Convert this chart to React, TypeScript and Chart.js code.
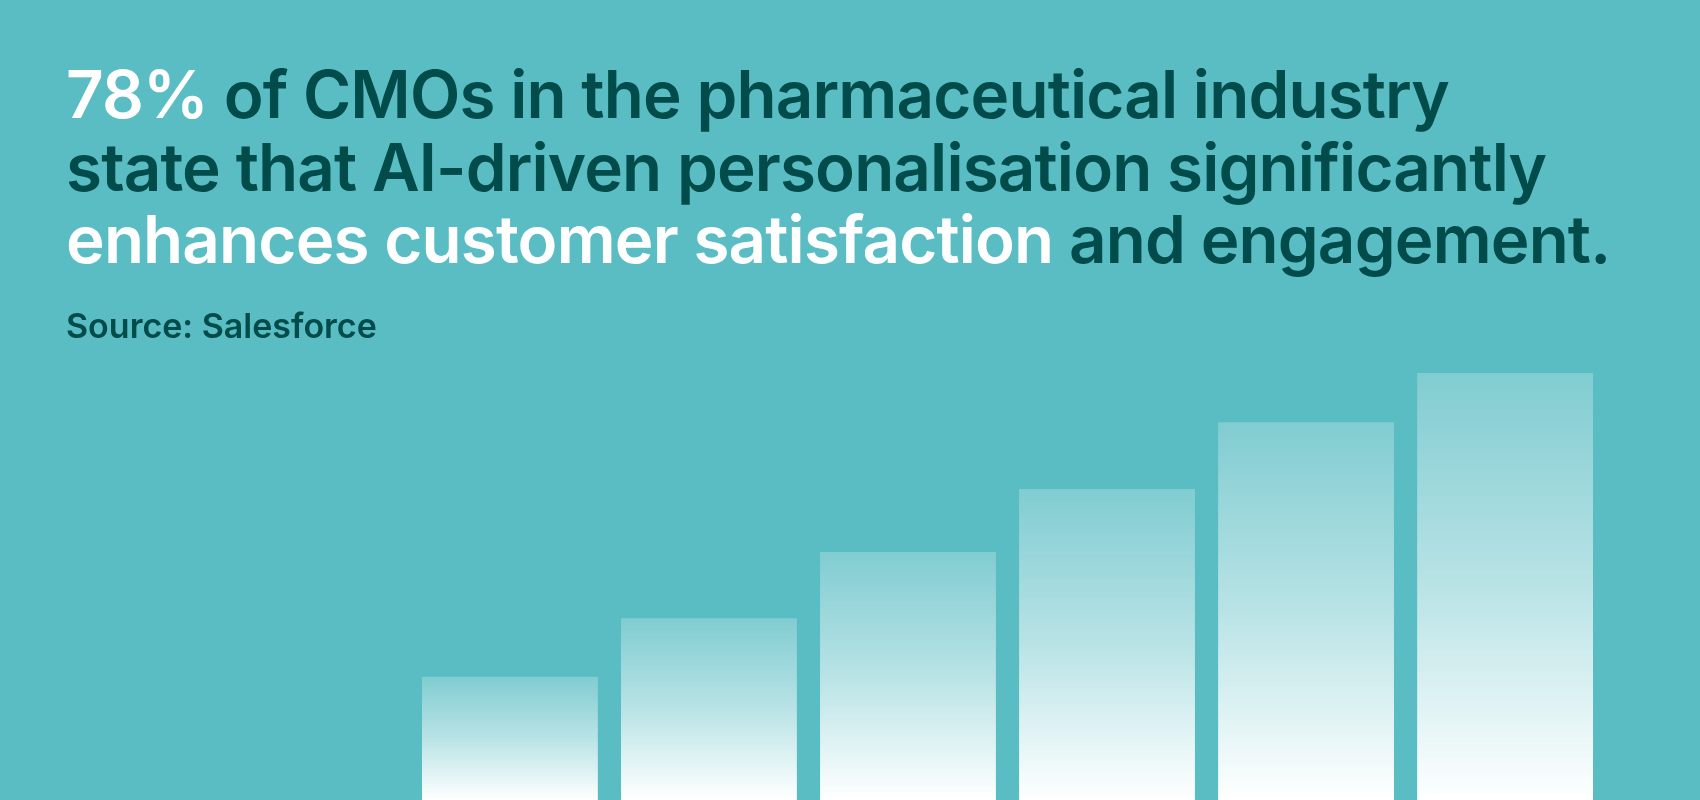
import { useEffect, useRef } from 'react'
import { Chart, registerables } from 'chart.js'

Chart.register(...registerables)

const categories = ['1', '2', '3', '4', '5', '6']
const values = [22.5, 33.2, 45.3, 56.8, 69.0, 78.0]

const BG = '#59bdc3'
const DARK = '#014b4a'

export default function App() {
  const chartRef = useRef<HTMLCanvasElement>(null)
  const chartInstance = useRef<Chart | null>(null)

  useEffect(() => {
    document.body.style.margin = '0'
    if (!chartRef.current) return
    if (chartInstance.current) chartInstance.current.destroy()

    const ctx = chartRef.current.getContext('2d')
    if (!ctx) return

    chartInstance.current = new Chart(ctx, {
      type: 'bar',
      data: {
        labels: categories,
        datasets: [
          {
            data: values,
            // gradiente por barra: branco translúcido no topo, branco na base
            backgroundColor: (c: any) => {
              const chart = c.chart
              if (!chart.chartArea || c.raw == null) return 'rgba(255,255,255,0.5)'
              const y = chart.scales.y
              const top = y.getPixelForValue(c.raw)
              const bottom = y.getPixelForValue(0)
              const g = chart.ctx.createLinearGradient(0, top, 0, bottom)
              g.addColorStop(0, 'rgba(255,255,255,0.24)')
              g.addColorStop(0.5, 'rgba(255,255,255,0.58)')
              g.addColorStop(1, 'rgba(255,255,255,1)')
              return g
            },
            borderWidth: 0,
            barPercentage: 0.8835,
            categoryPercentage: 1
          }
        ]
      },
      options: {
        animation: false,
        responsive: true,
        maintainAspectRatio: false,
        layout: {
          padding: { left: 410.4, right: 95.4, top: 252.6, bottom: 0 }
        },
        plugins: {
          legend: { display: false },
          tooltip: { enabled: false },
          title: { display: false }
        },
        scales: {
          x: { display: false, grid: { display: false } },
          y: { display: false, min: 0, max: 100, grid: { display: false } }
        }
      }
    })

    return () => {
      if (chartInstance.current) {
        chartInstance.current.destroy()
        chartInstance.current = null
      }
    }
  }, [])

  const titleStyle: React.CSSProperties = {
    position: 'absolute',
    left: 66,
    top: 59,
    margin: 0,
    fontFamily: 'Inter, sans-serif',
    fontWeight: 600,
    fontSize: 65.5,
    lineHeight: '72.7px',
    letterSpacing: '-0.013em',
    color: DARK,
    whiteSpace: 'nowrap'
  }

  return (
    <div
      style={{
        position: 'fixed',
        left: 0,
        top: 0,
        width: 1700,
        height: 800,
        background: BG,
        overflow: 'hidden'
      }}
    >
      <canvas ref={chartRef} style={{ position: 'absolute', left: 0, top: 0 }} />
      <div style={titleStyle}>
        <span style={{ color: '#ffffff' }}>78%</span> of CMOs in the pharmaceutical industry
        <br />
        state that AI-driven personalisation significantly
        <br />
        <span style={{ color: '#ffffff' }}>enhances customer satisfaction</span> and engagement.
      </div>
      <div
        style={{
          position: 'absolute',
          left: 66,
          top: 306,
          fontFamily: 'Inter, sans-serif',
          fontWeight: 600,
          fontSize: 34,
          lineHeight: '40px',
          color: DARK,
          whiteSpace: 'nowrap'
        }}
      >
        Source: Salesforce
      </div>
    </div>
  )
}
